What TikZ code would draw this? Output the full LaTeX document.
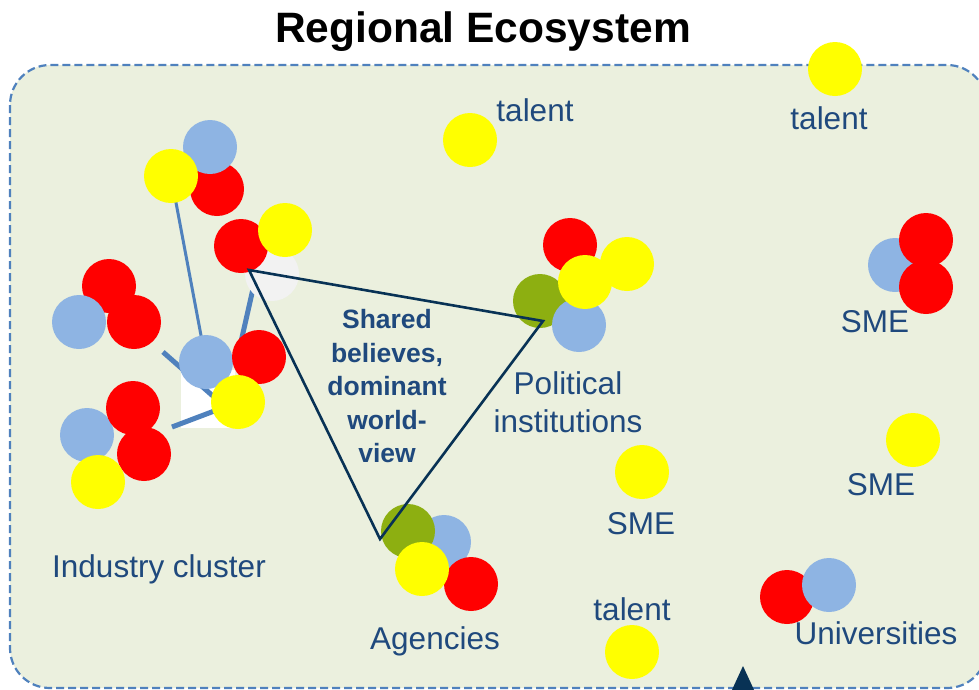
\documentclass[tikz,border=0pt]{standalone}
\usepackage{fontspec}
\setmainfont{Liberation Sans}
\definecolor{bgfill}{RGB}{235,240,222}
\definecolor{borderblue}{RGB}{79,129,189}
\definecolor{txtblue}{RGB}{31,73,125}
\definecolor{navyline}{RGB}{8,50,85}
\definecolor{cred}{RGB}{255,0,0}
\definecolor{cyellow}{RGB}{255,255,0}
\definecolor{cblue}{RGB}{142,180,227}
\definecolor{cgreen}{RGB}{141,175,17}
\definecolor{cgray}{RGB}{242,242,242}
\pgfdeclarelayer{bg}
\pgfdeclarelayer{lines}
\pgfsetlayers{bg,lines,main}
\begin{document}
\begin{tikzpicture}[x=1pt,y=-1pt,
  dot/.style={circle,minimum size=54pt,inner sep=0pt,draw=none},
  rc/.style={dot,fill=cred},
  yc/.style={dot,fill=cyellow},
  bc/.style={dot,fill=cblue},
  gc/.style={dot,fill=cgreen},
  grc/.style={dot,fill=cgray},
  lbl/.style={text=txtblue,font=\fontsize{31.5}{38}\selectfont,inner sep=0pt},
  boldlbl/.style={text=txtblue,font=\fontsize{26.5}{33.5}\selectfont\bfseries,inner sep=0pt,align=center},
  thinlink/.style={draw=borderblue,line width=3pt},
  thicklink/.style={draw=borderblue,line width=5pt},
  tri/.style={draw=navyline,line width=2.6pt,line join=miter}
]
\useasboundingbox (0,0) rectangle (979,689);

% frame
\begin{pgfonlayer}{bg}
\draw[fill=bgfill,draw=borderblue,line width=2.2pt,dash pattern=on 8pt off 4pt,rounded corners=40pt]
  (10,65) rectangle (987,688);
\fill[white] (181,370) rectangle (235,428);
\end{pgfonlayer}

% title
\node[font=\fontsize{42.5}{48}\selectfont\bfseries,anchor=base,inner sep=0pt] (title) at (483,42) {Regional Ecosystem};

% industry cluster circles
\node[grc] (ig) at (272,274) {};
\node[rc] (i1r) at (217,189) {};
\node[bc] (i1b) at (210,147) {};
\node[yc] (i1y) at (171,176) {};
\node[rc] (i2r) at (241,246) {};
\node[yc] (i2y) at (285,230) {};
\node[rc] (i3r1) at (109,286) {};
\node[bc] (i3b) at (79,322) {};
\node[rc] (i3r2) at (134,322) {};
\node[bc] (icb) at (206,362) {};
\node[rc] (icr) at (259,357) {};
\node[yc] (icy) at (238,402) {};
\node[bc] (i4b) at (87,435) {};
\node[rc] (i4r1) at (133,408) {};
\node[rc] (i4r2) at (144,454) {};
\node[yc] (i4y) at (98,482) {};

% link coordinates
\coordinate (la) at (255,280);
\coordinate (lb) at (238,355);
\coordinate (lc) at (163,352);
\coordinate (ld) at (222,404);
\coordinate (le) at (172,427);

\begin{pgfonlayer}{lines}
\draw[thinlink] (i1y.center) -- (icb.center);
\draw[thicklink] (la) -- (lb);
\draw[thicklink] (lc) -- (ld);
\draw[thicklink] (le) -- (icy.center);
\end{pgfonlayer}

% political institutions
\node[rc] (pr) at (570,245) {};
\node[yc] (py1) at (627,264) {};
\node[gc] (pg) at (540,301) {};
\node[bc] (pb) at (579,325) {};
\node[yc] (py2) at (585,282) {};

% agencies
\node[bc] (ab) at (444,542) {};
\node[gc] (ag) at (408,531) {};
\node[rc] (ar) at (471,584) {};
\node[yc] (ay) at (422,569) {};

% singles
\node[yc] (t1) at (470,140) {};
\node[yc] (t2) at (835,69) {};
\node[bc] (s1b) at (895,265) {};
\node[rc] (s1r1) at (926,240) {};
\node[rc] (s1r2) at (926,287) {};
\node[yc] (s2) at (913,440) {};
\node[yc] (s3) at (642,472) {};
\node[yc] (t3) at (632,652) {};
\node[rc] (ur) at (787,597) {};
\node[bc] (ub) at (829,585) {};

% triangle
\coordinate (tA) at (249,270);
\coordinate (tB) at (543,321);
\coordinate (tC) at (380,539);
\draw[tri] (tA) -- (tB) -- (tC) -- cycle;

% bottom marker
\fill[navyline] (731,692) -- (743,666) -- (755,692) -- cycle;

% labels
\node[boldlbl] (shared) at (387,386.5) {Shared\\believes,\\dominant\\world-\\view};
\node[lbl,align=center] (polit) at (568,402.5) {Political\\institutions};
\node[lbl,anchor=base] (lt1) at (535,121) {talent};
\node[lbl,anchor=base] (lt2) at (829,129) {talent};
\node[lbl,anchor=base] (ls1) at (875,332) {SME};
\node[lbl,anchor=base] (ls2) at (881,495) {SME};
\node[lbl,anchor=base] (ls3) at (641,534) {SME};
\node[lbl,anchor=base] (lind) at (159,577) {Industry cluster};
\node[lbl,anchor=base] (lt3) at (632,620) {talent};
\node[lbl,anchor=base] (lag) at (435,649) {Agencies};
\node[lbl,anchor=base] (luni) at (876,644) {Universities};
\end{tikzpicture}
\end{document}
